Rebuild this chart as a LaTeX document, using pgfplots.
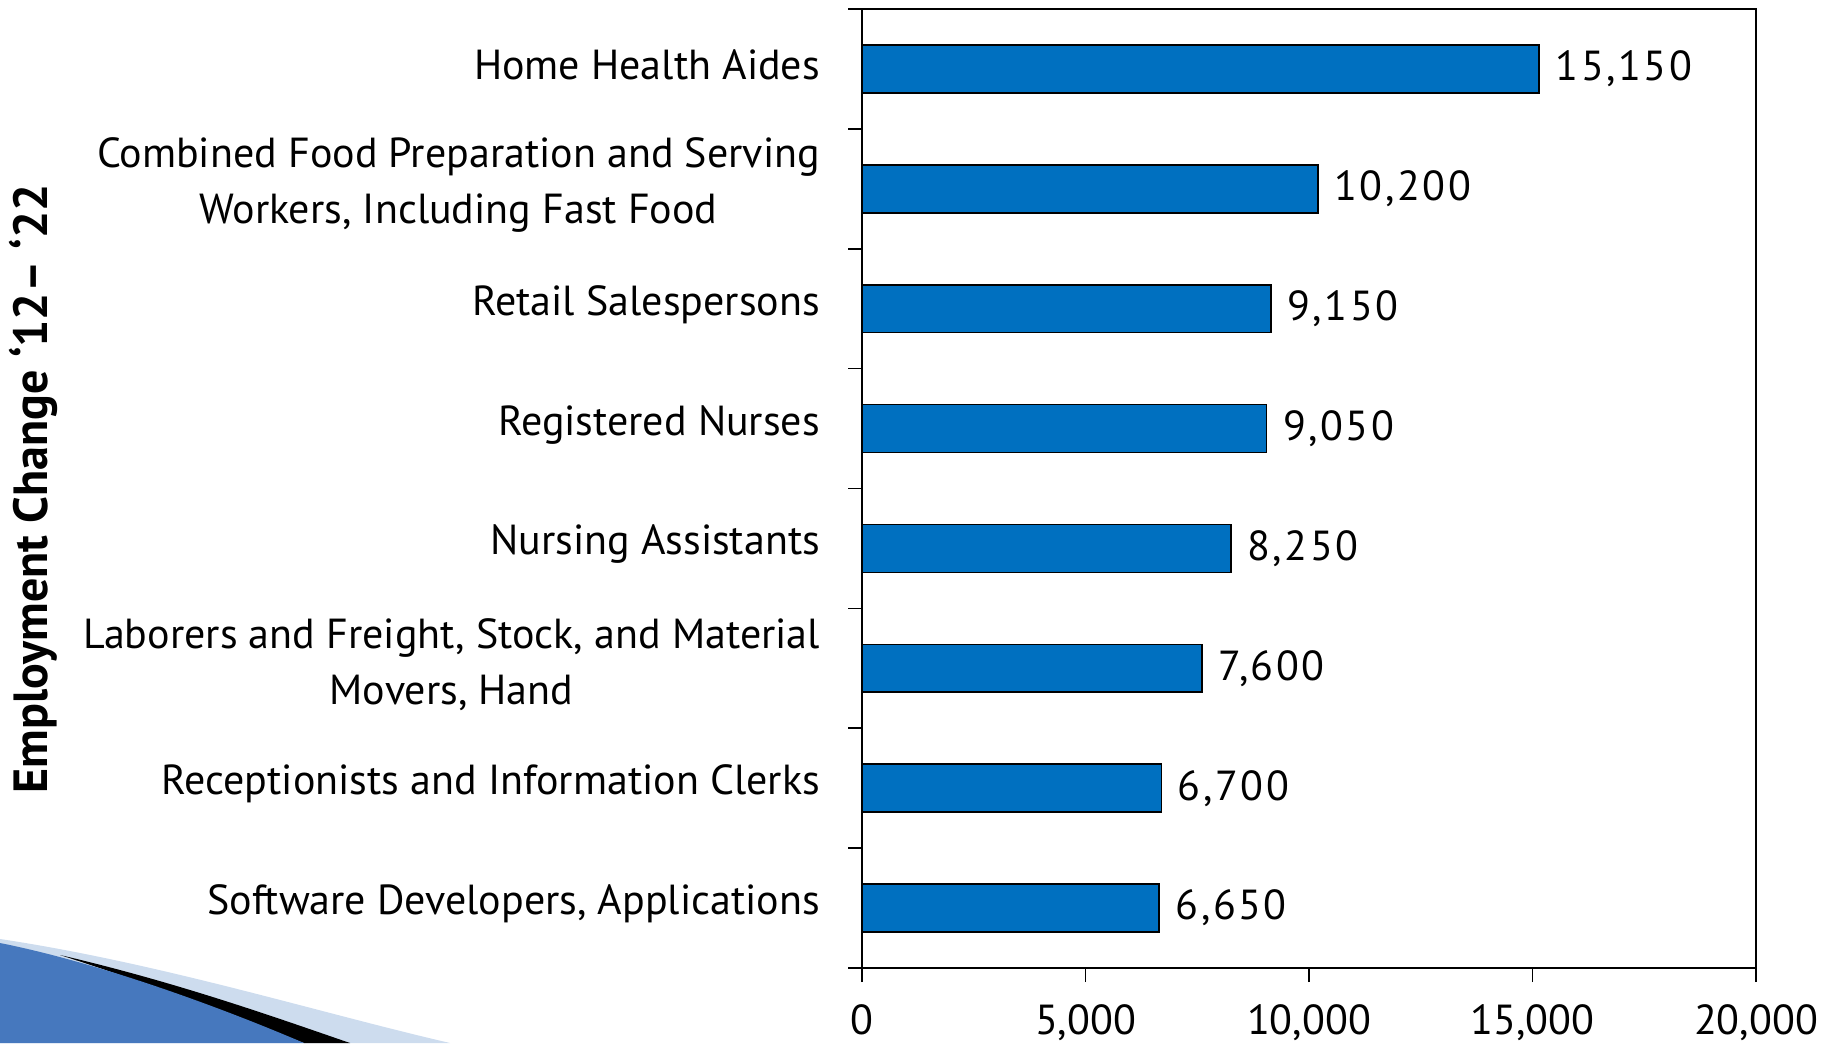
\documentclass[border=0pt]{standalone}
\usepackage{fontspec}
\setmainfont{PT Sans}
\usepackage{pgfplots}
\pgfplotsset{compat=1.18}
\definecolor{barblue}{RGB}{0,112,192}
\definecolor{swblue}{RGB}{70,120,190}
\definecolor{swlight}{RGB}{205,220,238}
\begin{document}
\begin{tikzpicture}[font=\fontsize{21}{28}\selectfont]
\path[use as bounding box] (0,0) rectangle (919.5pt,521.5pt);
% decorative swoosh
\fill[swlight] (0pt,52pt) .. controls (80pt,40pt) and (160pt,15pt) .. (225pt,0pt) -- (0pt,0pt) -- cycle;
\fill[black] (30pt,44pt) .. controls (90pt,30pt) and (140pt,12pt) .. (175pt,0pt) -- (152pt,0pt) .. controls (120pt,12pt) and (80pt,28pt) .. (30pt,44pt) -- cycle;
\fill[swblue] (0pt,50pt) .. controls (50pt,40pt) and (110pt,18pt) .. (152pt,0pt) -- (0pt,0pt) -- cycle;
\begin{axis}[
  at={(431pt,37.5pt)}, anchor=south west,
  width=447pt, height=479.5pt, scale only axis,
  xbar, bar width=0.4,
  xmin=0, xmax=20000, ymin=0.5, ymax=8.5,
  xtick={0,5000,10000,15000,20000},
  minor xtick={0,5000,10000,15000,20000},
  ytick={1,2,3,4,5,6,7,8},
  minor ytick={0.5,1.5,2.5,3.5,4.5,5.5,6.5,7.5,8.5},
  xtick pos=bottom, ytick pos=left,
  yticklabels={{Software Developers, Applications},
    {Receptionists and Information Clerks},
    {Laborers and Freight, Stock, and Material\\Movers, Hand},
    {Nursing Assistants},
    {Registered Nurses},
    {Retail Salespersons},
    {Combined Food Preparation and Serving\\Workers, Including Fast Food},
    {Home Health Aides}},
  major tick length=0pt, minor tick length=7pt,
  tick align=outside,
  tick style={black, line width=0.8pt},
  axis line style={black, line width=1pt},
  scaled x ticks=false,
  /pgf/number format/1000 sep={,},
  /pgf/number format/assume math mode=true,
  xticklabel style={yshift=-15pt},
  yticklabel style={align=center, xshift=-17.5pt, yshift=2pt},
  nodes near coords, point meta=x, nodes near coords align=horizontal,
  every node near coord/.append style={black, xshift=4.5pt, font=\fontsize{21}{28}\selectfont\addfontfeature{LetterSpace=6}},
  ylabel={\fontsize{24}{28}\selectfont\bfseries Employment Change ‘12– ‘22},
  ylabel style={at={(axis description cs:-0.9273,0.5)}, anchor=center, rotate=0},
]
\addplot[fill=barblue, draw=black, line width=0.8pt] coordinates {(6650,1) (6700,2) (7600,3) (8250,4) (9050,5) (9150,6) (10200,7) (15150,8)};
\end{axis}
\end{tikzpicture}
\end{document}
